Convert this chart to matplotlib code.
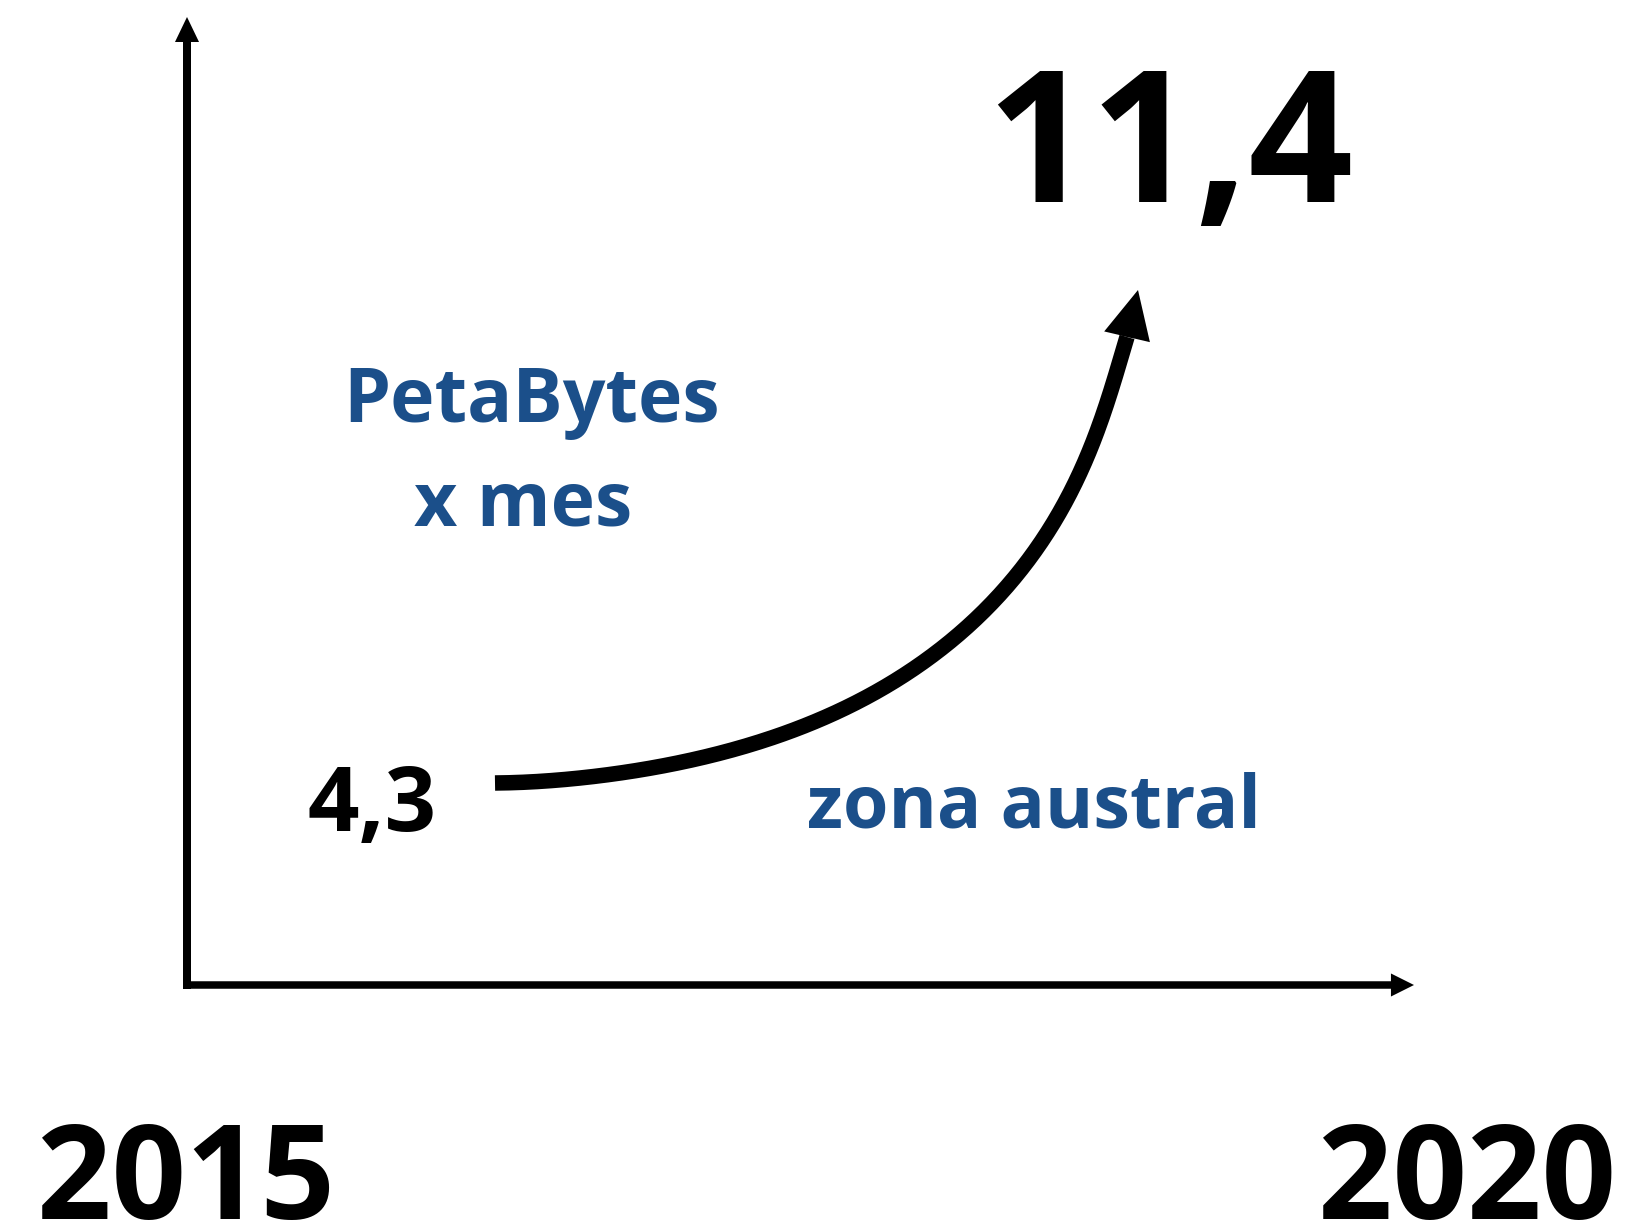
import numpy as np
import matplotlib.pyplot as plt
from matplotlib.patches import FancyArrowPatch
from math import comb

# values shown on the chart
years = ["2015", "2020"]
start_value = "4,3"
end_value = "11,4"
unit_lines = ["PetaBytes", "x mes"]
region = "zona austral"

# growth curve (pixel space, y down); last point = arrow tip
curve_x = [495, 540, 580, 647, 700, 750, 800, 850, 900, 950, 997,
           1030, 1053, 1073, 1090, 1100, 1108, 1115, 1121, 1127, 1138]
curve_y = [783, 781, 778, 770, 757, 744, 728, 707, 677, 642, 597,
           557, 523, 487, 453, 425, 400, 373, 352, 337, 290]

blue = "#1b4f8a"
W, H = 1629, 1229
PT = 72 / 100  # points per pixel

fig = plt.figure(figsize=(W / 100, H / 100), dpi=100)
ax = fig.add_axes([0, 0, 1, 1])
ax.set_xlim(0, W)
ax.set_ylim(H, 0)
ax.axis("off")

font = ["Open Sans", "DejaVu Sans"]


def head(p0, p1, length, width, tail):
    st = "simple,head_length=%.1f,head_width=%.1f,tail_width=%.1f" % (
        length * PT, width * PT, tail * PT)
    ax.add_patch(FancyArrowPatch(p0, p1, arrowstyle=st, mutation_scale=1,
                                 lw=0, color="black", shrinkA=0, shrinkB=0))


def bern(t, deg):
    return np.column_stack([comb(deg, k) * t ** k * (1 - t) ** (deg - k) for k in range(deg + 1)])


def smooth(xs, ys, deg=6, n=300):
    # least-squares bezier through the traced points, ends fixed
    p = np.column_stack([xs, ys]).astype(float)
    d = np.r_[0, np.cumsum(np.hypot(*np.diff(p, axis=0).T))]
    t = d / d[-1]
    B = bern(t, deg)
    rhs = p - np.outer(B[:, 0], p[0]) - np.outer(B[:, -1], p[-1])
    ctrl, *_ = np.linalg.lstsq(B[:, 1:-1], rhs, rcond=None)
    P = np.vstack([p[0], ctrl, p[-1]])
    out = bern(np.linspace(0, 1, n), deg) @ P
    return out[:, 0], out[:, 1]


# axes
ax.plot([187, 187], [989, 40], color="black", lw=8 * PT, solid_capstyle="butt")
head((187, 42), (187, 17), 25, 24, 8)
ax.plot([183, 1393], [985, 985], color="black", lw=7.5 * PT, solid_capstyle="butt")
head((1391, 985), (1414, 985), 23, 23, 7.5)

# growth curve
sx, sy = smooth(curve_x[:-1], curve_y[:-1])
ax.plot(sx, sy, color="black", lw=15.5 * PT, solid_capstyle="butt", solid_joinstyle="round")
head((curve_x[-2], curve_y[-2]), (curve_x[-1], curve_y[-1]), 48, 47, 15)

# text
ax.text(986, 202, end_value, fontsize=132, fontweight="bold", family=font,
        ha="left", va="baseline", color="black")
ax.text(308, 831, start_value, fontsize=65, fontweight="bold", family=font,
        ha="left", va="baseline", color="black")
ax.text(532, 422, unit_lines[0], fontsize=54, fontweight="bold", family=font,
        ha="center", va="baseline", color=blue)
ax.text(523, 525, unit_lines[1], fontsize=54, fontweight="bold", family=font,
        ha="center", va="baseline", color=blue)
ax.text(807, 828, region, fontsize=53, fontweight="bold", family=font,
        ha="left", va="baseline", color=blue)
ax.text(37, 1219, years[0], fontsize=94, fontweight="bold", family=font,
        ha="left", va="baseline", color="black")
ax.text(1616, 1219, years[1], fontsize=94, fontweight="bold", family=font,
        ha="right", va="baseline", color="black")

fig.savefig("out.png", dpi=100)
